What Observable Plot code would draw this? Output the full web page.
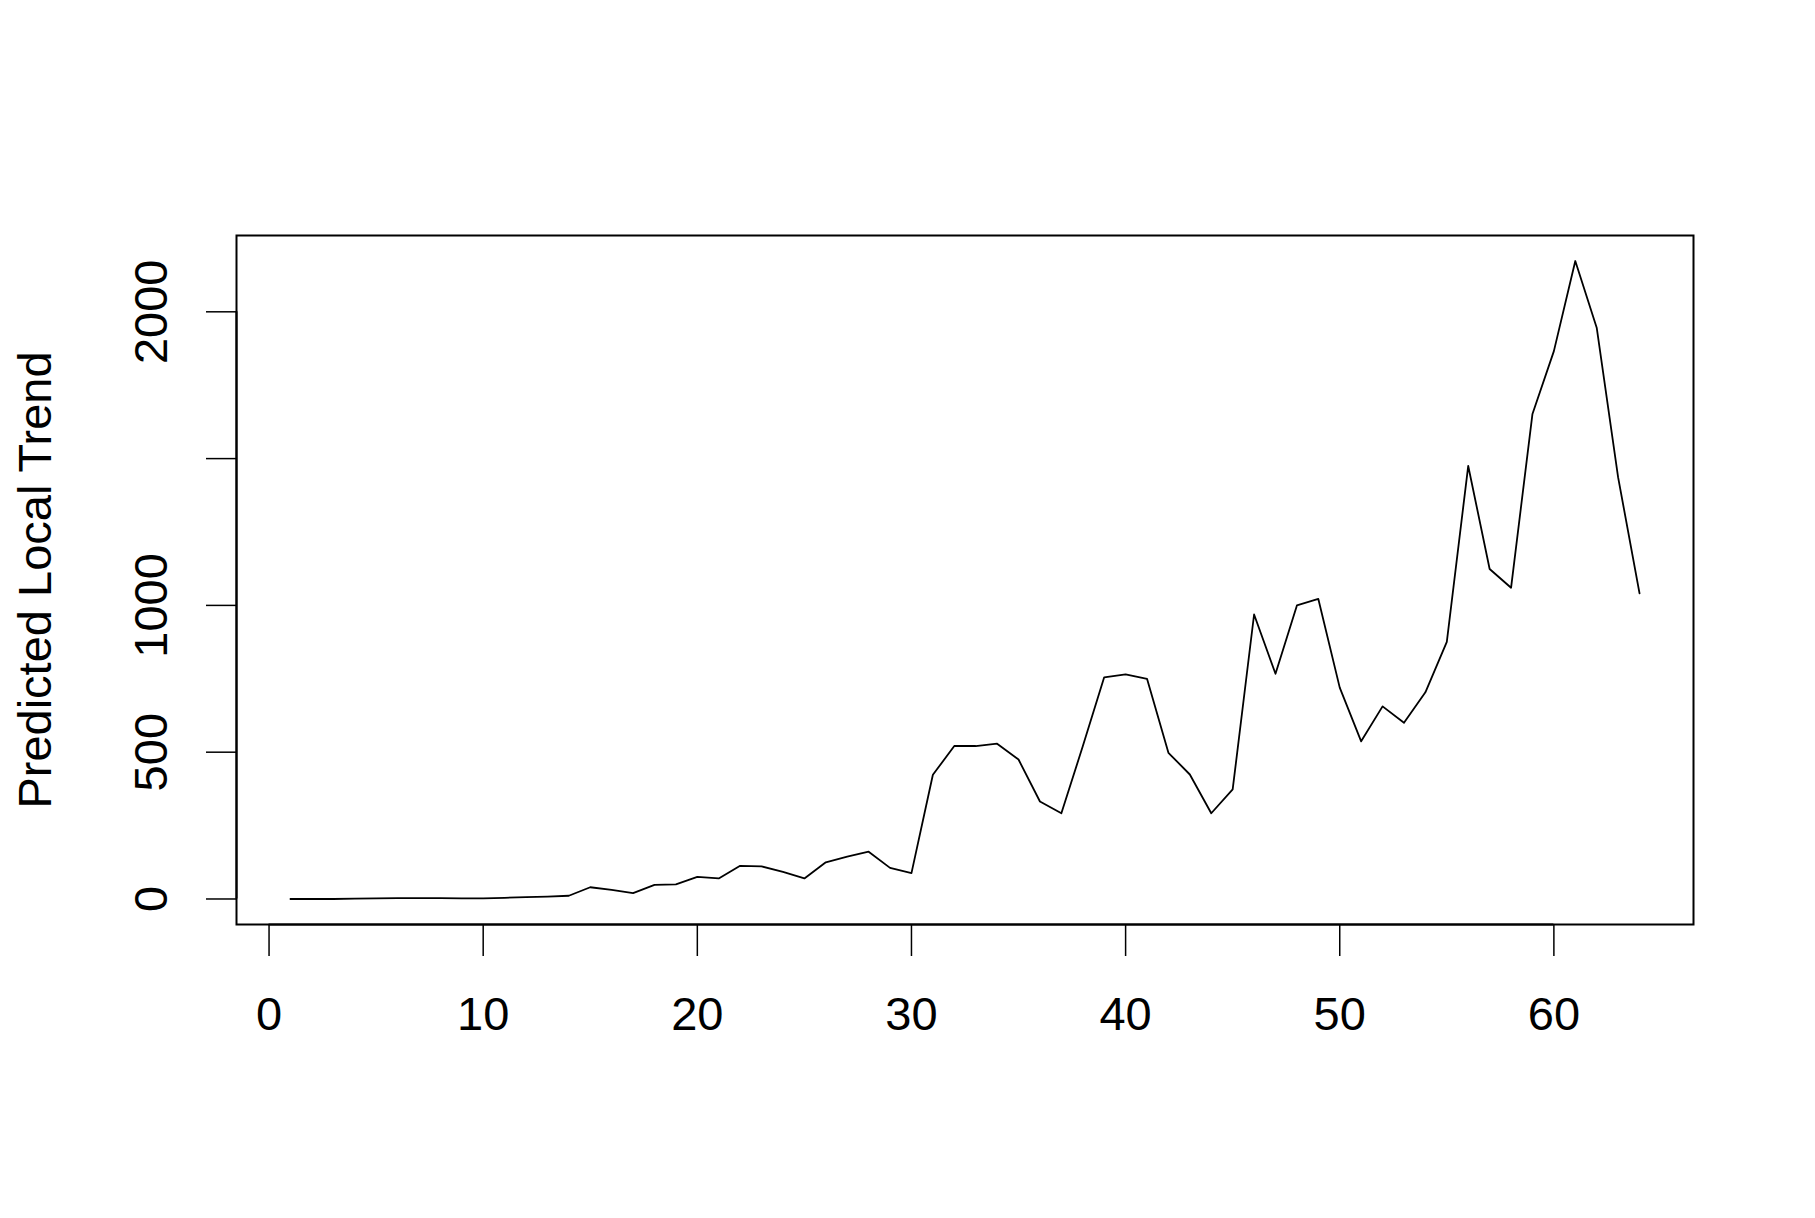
<!DOCTYPE html>
<html>
<head>
<meta charset="utf-8">
<script src="https://cdn.jsdelivr.net/npm/d3@7"></script>
<script src="https://cdn.jsdelivr.net/npm/@observablehq/plot@0.6"></script>
<style>
  html, body { margin: 0; padding: 0; background: white; }
</style>
</head>
<body>
<div id="chart"></div>
<script>
const timeIndex = d3.range(1, 65);
const trendValues = [
  0, 0, 0, 1, 2, 3, 3, 3, 2, 2,
  4, 6, 8, 11, 40, 31, 20, 48, 50, 75,
  70, 113, 111, 92, 70, 125, 144, 161, 106, 88,
  423, 521, 521, 529, 475, 332, 292, 520, 755, 765,
  750, 498, 424, 292, 373, 969, 767, 1000, 1022, 720,
  537, 656, 600, 704, 876, 1475, 1124, 1060, 1652, 1866,
  2173, 1946, 1436, 1041
];
const xTicks = [0, 10, 20, 30, 40, 50, 60];
const yTicks = [0, 500, 1000, 1500, 2000];
// R drops the 1500 label because it would overlap its neighbours
const yTickLabels = ["0", "500", "1000", "", "2000"];
const yLabel = "Predicted Local Trend";

const data = timeIndex.map((t, i) => ({t, v: trendValues[i]}));

// R-style 4% padding on both axes
function rPad(lo, hi) { const r = hi - lo; return [lo - 0.04 * r, hi + 0.04 * r]; }
const xDom = rPad(d3.min(timeIndex), d3.max(timeIndex));
const yDom = rPad(d3.min(trendValues), d3.max(trendValues));

const chart = Plot.plot({
  width: 1815,
  height: 1218,
  marginLeft: 236,
  marginRight: 122,
  marginTop: 235,
  marginBottom: 294,
  style: {fontFamily: "'Liberation Sans', Arial, Helvetica, sans-serif", fontSize: "47px", background: "white", color: "black"},
  x: {domain: xDom},
  y: {domain: yDom},
  marks: [
    Plot.frame({stroke: "black", strokeWidth: 2}),
    Plot.axisX(xTicks, {anchor: "bottom", tickSize: 32, tickPadding: 40, label: null, strokeWidth: 1.5, fontSize: 47, tickFormat: d => String(d)}),
    Plot.ruleY([yDom[0]], {x1: xTicks[0], x2: xTicks[xTicks.length - 1], stroke: "black", strokeWidth: 2}),
    Plot.axisY(yTicks, {anchor: "left", tickSize: 30, tickPadding: 40, tickRotate: -90, label: null, strokeWidth: 1.5, fontSize: 47,
      tickFormat: d => yTickLabels[yTicks.indexOf(d)]}),
    Plot.ruleX([xDom[0]], {y1: yTicks[0], y2: yTicks[yTicks.length - 1], stroke: "black", strokeWidth: 2}),
    Plot.text([yLabel], {frameAnchor: "left", textAnchor: "middle", dx: -201, rotate: -90, text: d => d, fontSize: 47, fill: "black"}),
    Plot.line(data, {x: "t", y: "v", stroke: "black", strokeWidth: 1.8})
  ]
});
document.getElementById("chart").appendChild(chart);
</script>
</body>
</html>
